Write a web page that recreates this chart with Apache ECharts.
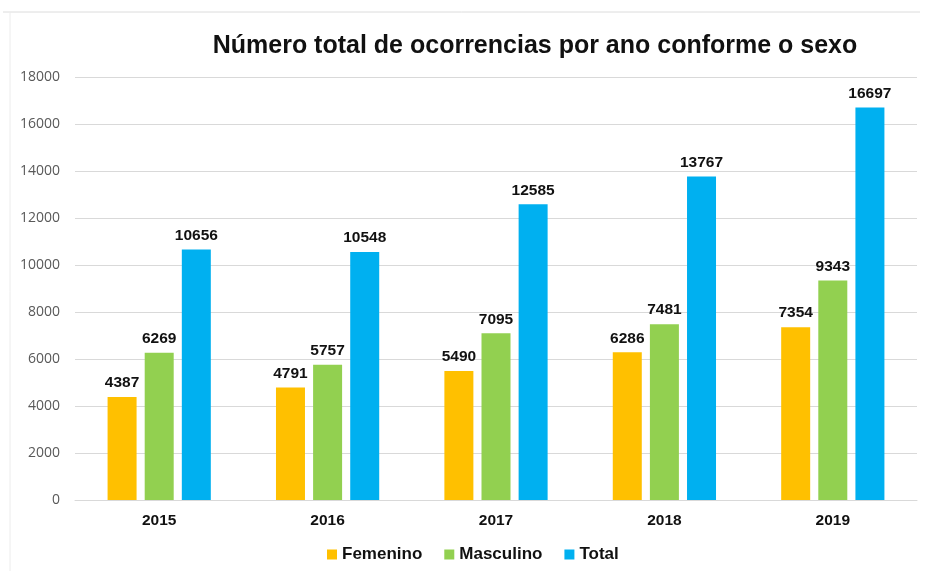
<!DOCTYPE html>
<html><head><meta charset="utf-8">
<script src="https://cdn.jsdelivr.net/npm/echarts@6/dist/echarts.min.js"></script>
<style>html,body{margin:0;padding:0;background:#fff}#c{width:925px;height:571px}</style>
</head><body><div id="c"></div>
<script>
const categories = ['2015','2016','2017','2018','2019'];
const femenino = [4387, 4791, 5490, 6286, 7354];
const masculino = [6269, 5757, 7095, 7481, 9343];
const total = [10656, 10548, 12585, 13767, 16697];
const seriesNames = ['Femenino','Masculino','Total'];
const colors = ['#FFC000','#92D050','#00B0F0'];

const chart = echarts.init(document.getElementById('c'));
const lbl = {show:true, position:'top', color:'#111', fontWeight:'bold', fontSize:15.5, fontFamily:'Liberation Sans, Arial', distance:6};
chart.setOption({
  animation:false,
  graphic:[{type:'polyline', shape:{points:[[3,12],[920,12]]}, style:{stroke:'#dcdcdc', lineWidth:1}},
           {type:'polyline', shape:{points:[[10,12],[10,571]]}, style:{stroke:'#ececec', lineWidth:1}}],
  title:{text:'Número total de ocorrencias por ano conforme o sexo', left:530, top:29, textAlign:'center',
    textStyle:{fontFamily:'Liberation Sans, Arial', fontWeight:'bold', fontSize:25, color:'#111'}},
  legend:{data:seriesNames, bottom:8, left:327, padding:0, itemWidth:10, itemHeight:10, icon:'rect', itemGap:22,
    textStyle:{fontFamily:'Liberation Sans, Arial', fontWeight:'bold', fontSize:17, color:'#111'}},
  grid:{left:75, right:8, top:77, bottom:71, containLabel:false},
  xAxis:{type:'category', data:categories, axisTick:{show:false},
    axisLine:{lineStyle:{color:'#d9d9d9'}},
    axisLabel:{fontFamily:'Liberation Sans, Arial', fontWeight:'bold', fontSize:15.5, color:'#111', margin:13}},
  yAxis:{type:'value', min:0, max:18000, interval:2000,
    axisLabel:{fontFamily:'Open Sans, Liberation Sans', fontSize:14, color:'#595959', margin:15, formatter:v=>String(v)},
    splitLine:{lineStyle:{color:'#d9d9d9'}}, axisLine:{show:false}, axisTick:{show:false}},
  series:[
    {name:seriesNames[0], type:'bar', data:femenino, itemStyle:{color:colors[0]}, barWidth:29, barGap:'28%', label:lbl},
    {name:seriesNames[1], type:'bar', data:masculino, itemStyle:{color:colors[1]}, barWidth:29, barGap:'28%', label:lbl},
    {name:seriesNames[2], type:'bar', data:total, itemStyle:{color:colors[2]}, barWidth:29, barGap:'28%', label:lbl}
  ]
});
</script></body></html>
